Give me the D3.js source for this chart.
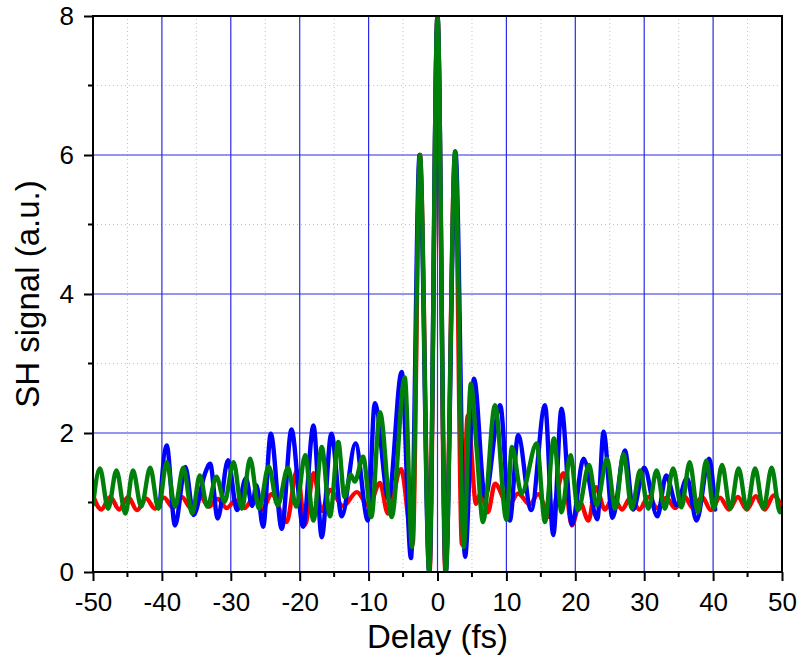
<!DOCTYPE html>
<html><head><meta charset="utf-8">
<script src="https://cdn.jsdelivr.net/npm/d3@7"></script>
<style>
html,body{margin:0;padding:0;background:#fff;}
svg{display:block;}
text{font-family:"Liberation Sans",Arial,sans-serif;fill:#000;}
</style></head>
<body>
<svg id="chart" width="801" height="658"></svg>
<script>
// ---- data (extrema of each trace) ----
const xTicks = [-50,-40,-30,-20,-10,0,10,20,30,40,50];
const xMinor = [-45,-35,-25,-15,-5,5,15,25,35,45];
const yTicks = [0,2,4,6,8];
const yMinor = [1,3,5,7];

const redTrace = [
[-50,1.10],[-48.8,0.90],[-47.5,1.08],[-46.2,0.90],[-44.9,1.08],[-43.6,0.89],[-42.3,1.06],[-41.0,0.91],
[-39.7,1.07],[-38.4,0.93],[-37.1,1.08],[-35.8,0.92],[-34.5,1.10],[-33.2,0.94],[-31.9,1.05],[-30.6,0.92],
[-29.3,1.03],[-28.0,0.92],[-26.7,1.06],[-25.4,0.90],[-24.1,1.12],[-21.9,0.72],[-20.4,1.46],[-19.2,0.68],
[-18.0,1.42],[-16.8,0.88],[-15.6,1.18],[-13.7,0.95],[-11.7,1.15],[-10.0,0.95],[-8.35,1.28],[-7.2,0.84],
[-5.3,1.48],[-3.6,0.41],[-2.55,6.0],[-1.15,0.0],[0,8.0],[1.15,0.0],[2.55,6.0],[3.55,0.40],[4.4,2.25],
[5.6,0.98],[6.3,1.15],[7.3,0.86],[8.35,1.27],[10.3,0.95],[11.7,1.13],[13.4,0.97],[14.6,1.12],[16.3,0.79],
[18.3,1.42],[19.5,0.67],[20.7,1.00],[21.9,0.74],[23.0,1.22],[24.3,0.90],[25.5,1.07],[26.8,0.90],[28.0,1.07],
[29.3,0.90],[30.6,1.08],[31.9,0.92],[33.2,1.07],[34.5,0.92],[35.8,1.09],[37.1,0.92],[38.4,1.08],[39.7,0.89],
[41.0,1.07],[42.3,0.90],[43.6,1.08],[44.9,0.90],[46.2,1.09],[47.5,0.90],[48.8,1.10],[50,0.92]
];

const blueTrace = [
[-40.3,0.95],[-39.3,1.82],[-38.1,0.67],[-36.6,1.51],[-35.4,0.82],[-33.8,1.40],[-33.0,1.56],[-31.9,0.77],
[-30.4,1.61],[-29.1,0.89],[-27.8,1.35],[-26.9,0.95],[-26.3,1.25],[-25.3,0.65],[-24.2,1.99],[-22.6,0.62],
[-21.2,2.05],[-19.5,0.65],[-18.0,2.11],[-16.8,0.50],[-15.4,1.99],[-13.9,0.80],[-11.9,1.85],[-10.1,0.74],
[-9.1,2.43],[-7.1,1.05],[-5.2,2.88],[-3.85,0.20],[-2.6,6.0],[-1.2,0.0],[0,8.0],[1.2,0.0],[2.6,6.05],
[4.0,0.22],[5.3,2.78],[6.9,1.08],[9.1,2.40],[10.5,0.74],[11.7,1.97],[13.6,0.89],[15.6,2.40],[16.8,0.53],
[18.0,2.35],[19.5,0.68],[21.2,1.63],[23.2,0.76],[24.1,2.02],[25.4,0.78],[27.2,1.75],[28.4,0.90],[30.0,1.50],
[31.9,0.80],[33.2,1.39],[34.7,0.96],[36.2,1.35],[37.6,0.74],[39.4,1.63],[40.3,0.90]
];

const greenTrace = [
[-50,0.97],[-49.0,1.49],[-47.8,0.91],[-46.6,1.46],[-45.3,0.84],[-44.2,1.46],[-43.0,0.94],[-41.7,1.50],
[-40.5,0.91],[-39.3,1.58],[-38.1,0.94],[-36.9,1.50],[-35.6,0.84],[-34.5,1.39],[-33.4,0.94],[-32.1,1.37],
[-30.9,1.01],[-29.6,1.58],[-28.4,0.91],[-27.2,1.63],[-25.9,0.91],[-24.5,1.52],[-23.2,0.96],[-21.7,1.50],
[-20.5,0.94],[-19.2,1.68],[-18.0,0.74],[-16.8,1.80],[-15.6,0.80],[-14.4,1.87],[-13.5,1.08],[-12.6,1.40],
[-12.0,1.30],[-10.8,1.66],[-9.6,0.79],[-8.35,2.30],[-6.65,0.79],[-4.75,2.80],[-3.7,0.36],[-2.55,6.0],
[-1.2,0.0],[0,8.0],[1.2,0.0],[2.55,6.05],[3.8,0.36],[4.85,2.71],[5.7,1.75],[6.6,0.72],[8.35,2.40],
[10.0,0.75],[10.8,1.80],[12.2,1.13],[14.4,1.85],[15.6,0.72],[16.9,1.92],[18.0,0.86],[19.3,1.68],[20.4,0.89],
[22.0,1.54],[23.1,0.96],[24.6,1.63],[25.8,0.91],[27.0,1.70],[28.2,0.91],[29.4,1.46],[30.6,0.91],[31.8,1.46],
[33.0,0.91],[34.2,1.49],[35.4,0.93],[36.6,1.58],[37.8,0.86],[39.0,1.60],[40.1,0.91],[41.3,1.54],[42.5,0.91],
[43.7,1.49],[44.9,0.91],[46.1,1.49],[47.3,0.91],[48.5,1.50],[49.7,0.86],[50,0.90]
];

const seriesList = [
  {name:"red", data:redTrace, color:"#ff0000"},
  {name:"blue", data:blueTrace, color:"#0000ff"},
  {name:"green", data:greenTrace, color:"#00800a"}
];

// ---- layout ----
const W = 801, H = 658;
const M = {left:93, right:19, top:16, bottom:86};
const iw = W - M.left - M.right, ih = H - M.top - M.bottom;

const svg = d3.select("#chart");
const x = d3.scaleLinear().domain([-50,50]).range([M.left, M.left+iw]);
const y = d3.scaleLinear().domain([0,8]).range([M.top+ih, M.top]);

// minor grid (green dotted)
const g = svg.append("g");
g.selectAll("line.mx").data(xMinor).join("line")
  .attr("x1",d=>x(d)).attr("x2",d=>x(d)).attr("y1",y(0)).attr("y2",y(8))
  .attr("stroke","#9edc9e").attr("stroke-width",1).attr("stroke-dasharray","1,3");
g.selectAll("line.my").data(yMinor).join("line")
  .attr("x1",x(-50)).attr("x2",x(50)).attr("y1",d=>y(d)).attr("y2",d=>y(d))
  .attr("stroke","#9edc9e").attr("stroke-width",1).attr("stroke-dasharray","1,3");
// major grid (blue)
g.selectAll("line.gx").data(xTicks.filter(d=>d>-50&&d<50)).join("line")
  .attr("x1",d=>x(d)).attr("x2",d=>x(d)).attr("y1",y(0)).attr("y2",y(8))
  .attr("stroke","#2a2ae8").attr("stroke-width",1.2);
g.selectAll("line.gy").data(yTicks.filter(d=>d>0&&d<8)).join("line")
  .attr("x1",x(-50)).attr("x2",x(50)).attr("y1",d=>y(d)).attr("y2",d=>y(d))
  .attr("stroke","#2a2ae8").attr("stroke-width",1.2);

// clip
svg.append("clipPath").attr("id","clip").append("rect")
  .attr("x",M.left).attr("y",M.top).attr("width",iw).attr("height",ih);

const line = d3.line().x(d=>x(d[0])).y(d=>y(d[1])).curve(d3.curveMonotoneX);
svg.append("g").attr("clip-path","url(#clip)")
  .selectAll("path").data(seriesList).join("path")
  .attr("d",d=>line(d.data)).attr("fill","none")
  .attr("stroke",d=>d.color).attr("stroke-width",4.4)
  .attr("stroke-linejoin","round").attr("stroke-linecap","round");

// frame
svg.append("rect").attr("x",M.left).attr("y",M.top).attr("width",iw).attr("height",ih)
  .attr("fill","none").attr("stroke","#000").attr("stroke-width",2);

// axes
const fmt = d => String(d);
const xAxis = d3.axisBottom(x).tickValues(xTicks).tickSize(9).tickPadding(12).tickFormat(fmt);
const ax = svg.append("g").attr("transform",`translate(0,${y(0)})`).call(xAxis);
const yAxis = d3.axisLeft(y).tickValues(yTicks).tickSize(9).tickPadding(10).tickFormat(fmt);
const ay = svg.append("g").attr("transform",`translate(${x(-50)},0)`).call(yAxis);
[ax,ay].forEach(a=>{
  a.select(".domain").remove();
  a.selectAll(".tick line").attr("stroke","#000").attr("stroke-width",2);
  a.selectAll(".tick text").attr("font-size",26).attr("font-family","Liberation Sans, Arial, sans-serif").attr("fill","#000");
});
// minor ticks
svg.append("g").selectAll("line").data(xMinor).join("line")
  .attr("x1",d=>x(d)).attr("x2",d=>x(d)).attr("y1",y(0)).attr("y2",y(0)+5)
  .attr("stroke","#000").attr("stroke-width",2);
svg.append("g").selectAll("line").data(yMinor).join("line")
  .attr("x1",x(-50)-5).attr("x2",x(-50)).attr("y1",d=>y(d)).attr("y2",d=>y(d))
  .attr("stroke","#000").attr("stroke-width",2);

// titles
svg.append("text").attr("x",(x(-50)+x(50))/2).attr("y",648).attr("text-anchor","middle")
  .attr("font-size",33).text("Delay (fs)");
svg.append("text").attr("transform",`translate(39,${(y(0)+y(8))/2}) rotate(-90)`)
  .attr("text-anchor","middle").attr("font-size",33).text("SH signal (a.u.)");
</script>
</body></html>
